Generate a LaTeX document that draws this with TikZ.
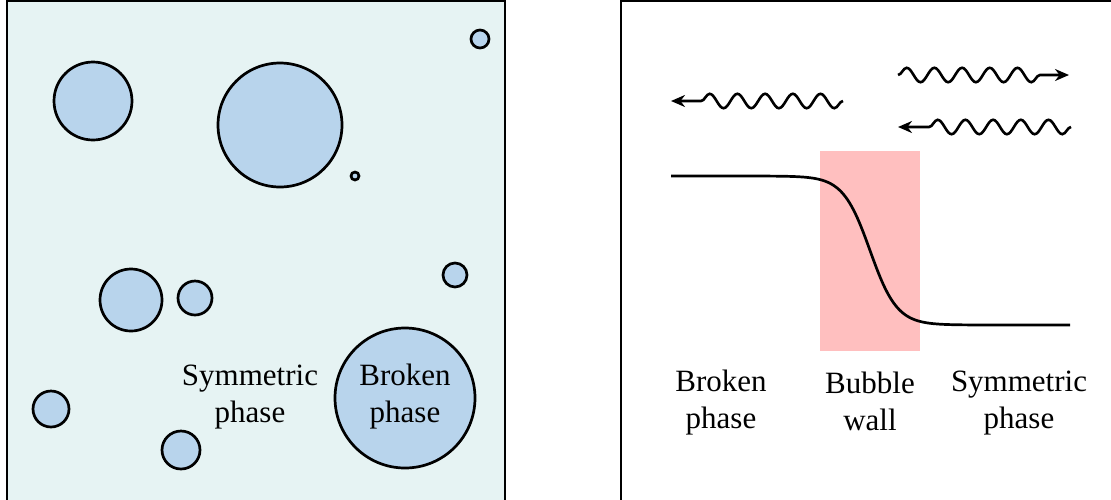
\documentclass[tikz,border=0pt]{standalone}
\usepackage{fontspec}
\setmainfont{Liberation Serif}
\usetikzlibrary{decorations.pathmorphing,arrows.meta}
\definecolor{panelbg}{HTML}{E6F3F3}
\definecolor{bubble}{HTML}{B8D4EC}
\definecolor{wallred}{HTML}{FFBFBF}
\tikzset{
  bub/.style={circle,draw=black,fill=bubble,line width=1.35pt,inner sep=0pt,outer sep=0pt},
  lbl/.style={align=center,inner sep=0pt,font=\fontsize{15.5}{18.5}\selectfont},
  panel/.style={draw=black,line width=0.7pt},
  wave/.style={line width=1.3pt,decorate,decoration={snake,segment length=13.85pt,amplitude=3.6pt,post length=12.5pt},-{Stealth[length=7pt,width=6pt]}},
  profile/.style={line width=1.35pt}
}
\begin{document}
\begin{tikzpicture}[x=0.5pt,y=-0.5pt]
\useasboundingbox (0,0) rectangle (1111,499);
\begin{scope}
\clip (0,0) rectangle (1111,499);
% left panel
\draw[panel,fill=panelbg] (7,1) rectangle (505,520);
\node[bub,minimum size=9pt] (b1) at (480,39) {};
\node[bub,minimum size=39pt] (b2) at (93,101) {};
\node[bub,minimum size=62pt] (b3) at (280,125) {};
\node[bub,minimum size=4pt] (b4) at (355,176) {};
\node[bub,minimum size=12pt] (b5) at (455,275) {};
\node[bub,minimum size=31pt] (b6) at (131,300) {};
\node[bub,minimum size=17pt] (b7) at (195,298) {};
\node[bub,minimum size=70pt] (b8) at (405,398) {};
\node[bub,minimum size=18pt] (b9) at (51,409) {};
\node[bub,minimum size=19pt] (b10) at (181,450) {};
\node[lbl] (sym) at (250,397) {Symmetric\\phase};
\node[lbl] (brk) at (405,397) {Broken\\phase};
% right panel
\draw[panel,fill=white] (621,1) rectangle (1130,520);
\fill[wallred] (820,151) rectangle (920,351);
\draw[profile] plot[domain=671:1070,samples=200] (\x,{250.5+74.5*tanh((\x-870)/27)});
\coordinate (aS) at (843,101); \coordinate (aE) at (671,101);
\coordinate (bS) at (898,75);  \coordinate (bE) at (1069,75);
\coordinate (cS) at (1071,127); \coordinate (cE) at (898,127);
\draw[wave] (aS) -- (aE);
\draw[wave] (bS) -- (bE);
\draw[wave] (cS) -- (cE);
\node[lbl] (rb) at (721,403) {Broken\\phase};
\node[lbl] (rw) at (870,401) {Bubble\\wall};
\node[lbl] (rs) at (1019,403) {Symmetric\\phase};
\end{scope}
\end{tikzpicture}
\end{document}
